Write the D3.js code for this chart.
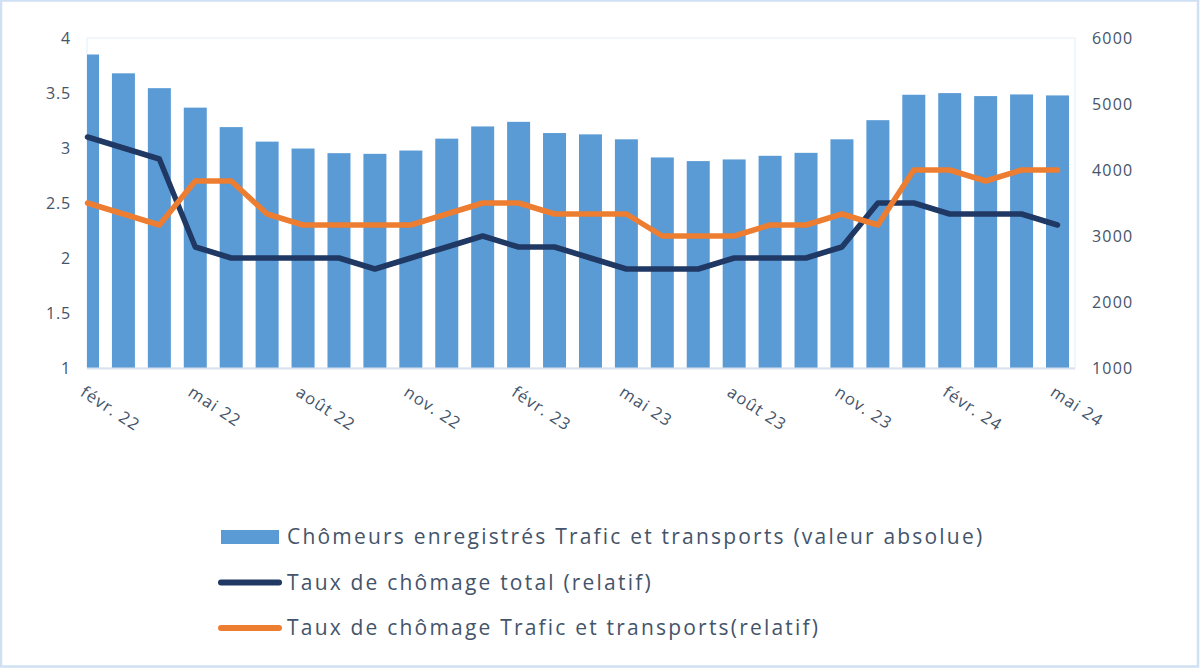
<!DOCTYPE html>
<html>
<head>
<meta charset="utf-8">
<script src="https://cdn.jsdelivr.net/npm/d3@7"></script>
<style>
  body { margin: 0; background: #fff; }
  text { font-family: "Open Sans", sans-serif; fill: #44546a; }
</style>
</head>
<body>
<div id="chart"></div>
<script>
  // months shown on the x axis (every month, labels every 3rd)
  var months = ["févr. 22", "mars 22", "avr. 22", "mai 22", "juin 22", "juil. 22", "août 22",
                "sept. 22", "oct. 22", "nov. 22", "déc. 22", "janv. 23", "févr. 23", "mars 23",
                "avr. 23", "mai 23", "juin 23", "juil. 23", "août 23", "sept. 23", "oct. 23",
                "nov. 23", "déc. 23", "janv. 24", "févr. 24", "mars 24", "avr. 24", "mai 24"];

  // registered unemployed, traffic & transport (right axis)
  var chomeurs = [5750, 5465, 5240, 4945, 4650, 4430, 4325, 4255, 4245, 4295, 4475, 4660, 4730, 4560,
                  4540, 4465, 4190, 4135, 4160, 4215, 4260, 4465, 4755, 5140, 5165, 5120, 5145, 5130];

  // total unemployment rate (left axis)
  var tauxTotal = [3.1, 3.0, 2.9, 2.1, 2.0, 2.0, 2.0, 2.0, 1.9, 2.0, 2.1, 2.2, 2.1, 2.1,
                   2.0, 1.9, 1.9, 1.9, 2.0, 2.0, 2.0, 2.1, 2.5, 2.5, 2.4, 2.4, 2.4, 2.3];

  // unemployment rate traffic & transport (left axis)
  var tauxTransport = [2.5, 2.4, 2.3, 2.7, 2.7, 2.4, 2.3, 2.3, 2.3, 2.3, 2.4, 2.5, 2.5, 2.4,
                       2.4, 2.4, 2.2, 2.2, 2.2, 2.3, 2.3, 2.4, 2.3, 2.8, 2.8, 2.7, 2.8, 2.8];

  var leftTicks = [1, 1.5, 2, 2.5, 3, 3.5, 4];
  var rightTicks = [1000, 2000, 3000, 4000, 5000, 6000];

  var legendItems = [
    {label: "Chômeurs enregistrés Trafic et transports (valeur absolue)", type: "bar", color: "#5b9bd5"},
    {label: "Taux de chômage total (relatif)", type: "line", color: "#203864"},
    {label: "Taux de chômage Trafic et transports(relatif)", type: "line", color: "#ed7d31"}
  ];

  var width = 1200, height = 668;
  var plot = {left: 87, right: 1075, top: 38, bottom: 368};

  var svg = d3.select("#chart")
              .append("svg")
              .attr("width", width)
              .attr("height", height);

  // outer chart border
  svg.append("rect")
     .attr("x", 1)
     .attr("y", 0.5)
     .attr("width", width - 3)
     .attr("height", height - 2)
     .attr("fill", "white")
     .attr("stroke", "#cfe0f2")
     .attr("stroke-width", 2.5);

  var x = d3.scaleLinear()
            .domain([0, months.length - 1])
            .range([87.5, 1057.5]);

  var yLeft = d3.scaleLinear()
                .domain([1, 4])
                .range([plot.bottom, plot.top]);

  var yRight = d3.scaleLinear()
                 .domain([1000, 6000])
                 .range([plot.bottom, plot.top]);

  svg.append("clipPath")
     .attr("id", "plotClip")
     .append("rect")
     .attr("x", plot.left)
     .attr("y", 0)
     .attr("width", plot.right - plot.left)
     .attr("height", plot.bottom);

  // plot frame
  svg.append("rect")
     .attr("x", plot.left)
     .attr("y", plot.top)
     .attr("width", plot.right - plot.left)
     .attr("height", plot.bottom - plot.top)
     .attr("fill", "none")
     .attr("stroke", "#edf3fa")
     .attr("stroke-width", 1.5);

  var barWidth = 23;

  svg.append("g")
     .attr("clip-path", "url(#plotClip)")
     .selectAll(".bar")
     .data(chomeurs)
     .enter()
     .append("rect")
     .attr("class", "bar")
     .attr("x", function(d, i) { return x(i) - barWidth / 2; })
     .attr("y", function(d) { return yRight(d); })
     .attr("width", barWidth)
     .attr("height", function(d) { return plot.bottom - yRight(d); })
     .attr("fill", "#5b9bd5");

  // bottom axis line
  svg.append("line")
     .attr("x1", plot.left)
     .attr("x2", plot.right)
     .attr("y1", plot.bottom + 0.5)
     .attr("y2", plot.bottom + 0.5)
     .attr("stroke", "#d9e2ee")
     .attr("stroke-width", 2);

  var line = d3.line()
               .x(function(d, i) { return x(i); })
               .y(function(d) { return yLeft(d); });

  svg.append("path")
     .datum(tauxTotal)
     .attr("d", line)
     .attr("fill", "none")
     .attr("stroke", "#203864")
     .attr("stroke-width", 5.5)
     .attr("stroke-linejoin", "round")
     .attr("stroke-linecap", "round");

  svg.append("path")
     .datum(tauxTransport)
     .attr("d", line)
     .attr("fill", "none")
     .attr("stroke", "#ed7d31")
     .attr("stroke-width", 5.5)
     .attr("stroke-linejoin", "round")
     .attr("stroke-linecap", "round");

  // left axis labels
  svg.selectAll(".leftTick")
     .data(leftTicks)
     .enter()
     .append("text")
     .attr("class", "leftTick")
     .attr("x", 71)
     .attr("y", function(d) { return yLeft(d); })
     .attr("dy", "0.35em")
     .attr("text-anchor", "end")
     .style("font-size", "16px")
     .style("letter-spacing", "0.8px")
     .text(function(d) { return d; });

  // right axis labels
  svg.selectAll(".rightTick")
     .data(rightTicks)
     .enter()
     .append("text")
     .attr("class", "rightTick")
     .attr("x", 1092)
     .attr("y", function(d) { return yRight(d); })
     .attr("dy", "0.35em")
     .attr("text-anchor", "start")
     .style("font-size", "16px")
     .style("letter-spacing", "1.2px")
     .text(function(d) { return d; });

  // month labels, every 3rd month, rotated
  svg.selectAll(".monthLabel")
     .data(months.filter(function(d, i) { return i % 3 === 0; }))
     .enter()
     .append("text")
     .attr("class", "monthLabel")
     .attr("transform", function(d, i) { return "translate(" + (x(i * 3) - 1) + "," + 384 + ") rotate(33)"; })
     .attr("dy", "0.8em")
     .style("font-size", "16.5px")
     .style("letter-spacing", "1.2px")
     .text(function(d) { return d; });

  // legend
  var legend = svg.selectAll(".legend")
                  .data(legendItems)
                  .enter()
                  .append("g")
                  .attr("class", "legend")
                  .attr("transform", function(d, i) { return "translate(0," + (537 + i * 45.5) + ")"; });

  legend.filter(function(d) { return d.type === "bar"; })
        .append("rect")
        .attr("x", 221)
        .attr("y", -7)
        .attr("width", 58)
        .attr("height", 14)
        .attr("fill", function(d) { return d.color; });

  legend.filter(function(d) { return d.type === "line"; })
        .append("line")
        .attr("x1", 221)
        .attr("x2", 279)
        .attr("stroke", function(d) { return d.color; })
        .attr("stroke-width", 6)
        .attr("stroke-linecap", "round");

  legend.append("text")
        .attr("x", 287)
        .attr("dy", "0.35em")
        .style("font-size", "21px")
        .style("letter-spacing", "2.2px")
        .text(function(d) { return d.label; });
</script>
</body>
</html>
